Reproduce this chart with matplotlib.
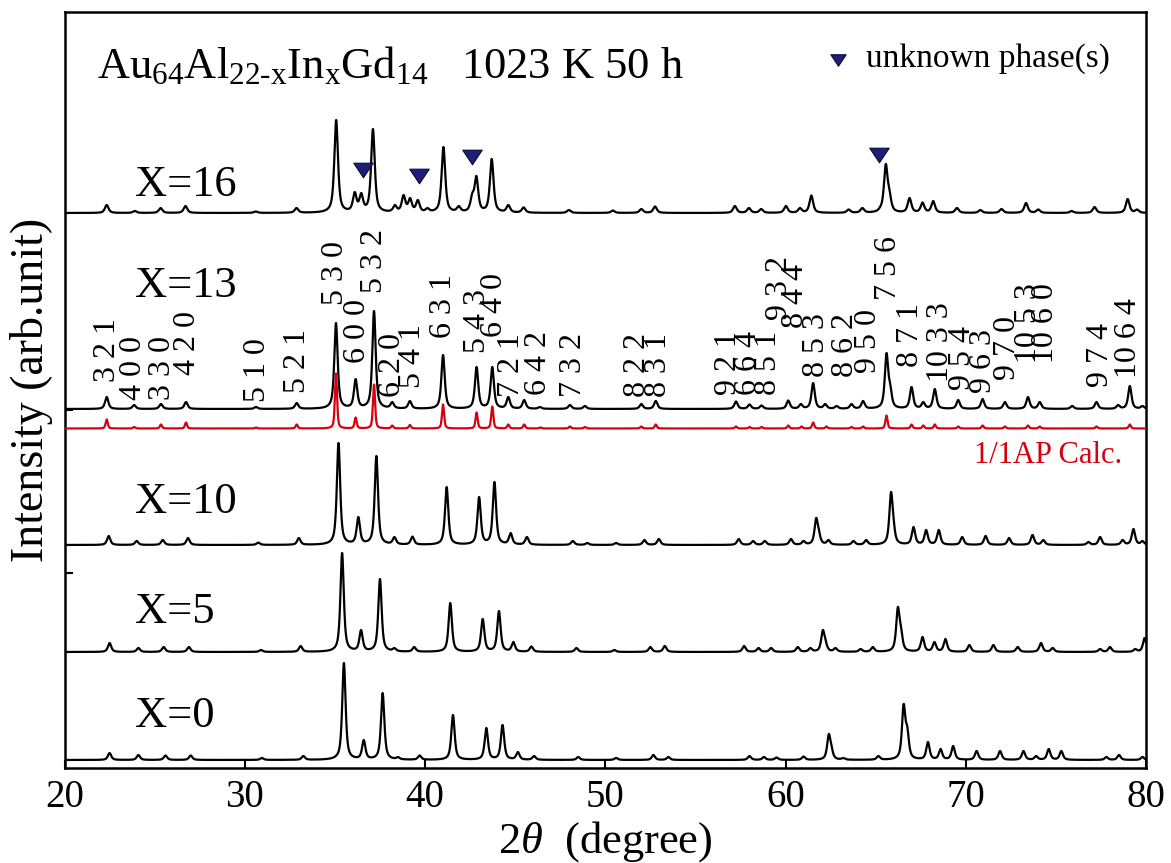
import numpy as np
import matplotlib
matplotlib.use("Agg")
import matplotlib.pyplot as plt
from matplotlib.path import Path

plt.rcParams['font.family'] = ['Liberation Serif', 'DejaVu Serif']
plt.rcParams['mathtext.fontset'] = 'custom'
plt.rcParams['mathtext.rm'] = 'Liberation Serif'
plt.rcParams['mathtext.it'] = 'Liberation Serif:italic'
plt.rcParams['mathtext.bf'] = 'Liberation Serif:bold'

# ---------------- peak lists: 2theta (deg) and peak height (arb. units) ----------------
x16_pos = [22.34, 23.9, 25.33, 26.71, 30.6, 32.87, 35.07, 36.1, 36.46, 37.11, 38.33, 38.81,
           39.17, 39.6, 40.13, 41.02, 41.87, 42.62, 42.85, 43.7, 44.62, 45.47, 47.98, 50.42,
           52.0, 52.76, 57.19, 57.97, 58.65, 60.02, 60.8, 61.43, 63.5, 64.26, 65.27, 65.56,
           65.76, 66.88, 67.6, 68.19, 69.51, 70.81, 71.98, 73.34, 74.02, 75.87, 77.14, 78.98, 79.5]
x16_int = [8, 2, 5, 7, 1.5, 5, 93, 21, 20, 84, 8, 18,
           15, 13, 5, 66, 7, 20, 37, 54, 8, 5.6, 3, 2.5,
           4, 6.5, 7, 5, 4, 7, 5, 17.5, 3.5, 5, 7, 49,
           24, 15, 10.5, 12, 5, 3, 4, 10, 3.5, 2, 6, 14, 3.5]

x13_pos = [22.34, 23.86, 25.35, 26.74, 30.62, 32.88, 35.06, 36.15, 37.17, 38.18, 39.16, 41.0,
           42.86, 43.73, 44.62, 45.5, 46.37, 48.04, 48.87, 52.0, 52.8, 57.25, 58.0, 58.67,
           60.15, 60.85, 61.53, 62.2, 62.83, 63.66, 64.3, 65.6, 65.8, 66.99, 67.64, 68.28,
           69.58, 70.93, 72.17, 73.45, 74.1, 75.9, 77.25, 78.45, 79.1, 79.8]
x13_int = [12, 4, 5, 7, 2, 6, 86, 30, 98, 7, 8, 54,
           42, 42, 12, 9, 2, 4, 3, 5, 8, 7.5, 4.5, 3.5,
           8.5, 5, 26, 5, 3, 5, 8, 56, 26, 22, 7, 20,
           9, 10, 7, 12, 7, 3, 7, 4, 23, 3]

calc_pos = [22.34, 23.86, 25.35, 26.74, 30.62, 32.88, 35.06, 36.15, 37.17, 38.18, 39.16, 41.0,
            42.86, 43.73, 44.62, 45.5, 46.4, 48.04, 48.87, 52.0, 52.8, 57.25, 58.0, 58.67,
            60.15, 60.89, 61.53, 62.27, 63.66, 64.3, 65.6, 66.99, 67.64, 68.28, 69.58, 70.93,
            72.17, 73.45, 74.1, 77.25, 79.1]
calc_int = [9, 1.5, 4, 6, 1, 4, 55, 11, 44, 3, 3.5, 24,
            16, 22, 4, 4, 1, 2, 1.5, 2, 4, 2, 1.5, 1.5,
            3, 2, 6, 2, 1.5, 2, 13, 4, 3, 4, 2, 3,
            2, 3, 2, 2, 4]

x10_pos = [22.45, 24.0, 25.45, 26.85, 30.75, 33.0, 35.2, 36.3, 37.3, 38.3, 39.3, 41.2,
           43.0, 43.85, 44.75, 45.65, 48.2, 49.0, 50.6, 52.17, 52.97, 57.4, 58.2, 58.85,
           60.3, 61.0, 61.7, 61.85, 62.38, 63.77, 64.47, 65.85, 65.98, 67.1, 67.8, 68.5,
           69.8, 71.1, 72.4, 73.7, 74.3, 76.8, 77.45, 78.7, 79.3, 79.8]
x10_int = [9, 4, 5, 7, 2.4, 7, 102, 28, 89, 8, 8.4, 58,
           48, 63, 12, 8, 4, 2, 2, 5, 6, 6, 4, 4,
           6, 4, 27, 15, 5, 4, 5, 53, 30, 18, 15, 15,
           8, 9, 7, 10, 5, 3, 8, 5, 16, 4]

x5_pos = [22.5, 24.1, 25.5, 26.9, 30.9, 33.1, 35.4, 36.45, 37.5, 38.3, 39.4, 41.4,
          43.2, 44.1, 44.9, 45.9, 48.4, 50.5, 52.5, 53.3, 57.7, 58.5, 59.2, 60.68,
          61.38, 62.07, 62.22, 62.77, 64.16, 64.84, 66.23, 66.4, 67.6, 68.26, 68.87, 70.2,
          71.53, 72.88, 74.17, 74.82, 77.45, 78.0, 79.4, 79.92]
x5_int = [9, 4, 5, 5, 2, 6, 99, 22, 73, 4, 5, 49,
          33, 41, 10, 5.5, 4, 2, 5, 6, 6, 4, 4, 5,
          4, 22, 12, 4, 3, 5, 45, 26, 15, 10, 13, 7,
          7, 5, 9, 4, 3, 5, 3, 14]

x0_pos = [22.5, 24.1, 25.6, 27.0, 30.95, 33.25, 35.5, 36.6, 37.65, 38.5, 39.7, 41.55,
          43.4, 44.3, 45.15, 46.05, 48.5, 50.6, 52.67, 53.5, 58.0, 58.8, 59.5, 61.0,
          62.4, 62.55, 63.2, 65.15, 66.55, 66.75, 67.9, 68.6, 69.3, 70.6, 71.9, 73.2,
          73.9, 74.6, 75.3, 77.8, 78.5, 79.8]
x0_int = [7, 5, 4.5, 4.5, 2, 4, 97, 20, 67, 3, 4.5, 45,
          32, 35, 8, 4, 3, 2, 5, 3, 4, 3, 2.5, 3.5,
          26, 14, 2, 4, 56, 34, 18, 11, 14, 9, 9, 9,
          4, 11, 9, 3, 5, 3]

# unknown-phase reflections seen in the X=16 pattern
unknown_pos = [36.55, 39.66, 42.6, 65.2]
unknown_mark = [43, 37, 56, 58]

# 1/1 approximant reflections: label, 2theta, label bottom
hkl_text = ["3 2 1", "4 0 0", "3 3 0", "4 2 0", "5 1 0", "5 2 1", "5 3 0", "6 0 0", "5 3 2",
            "6 2 0", "5 4 1", "6 3 1", "5 4 3", "6 4 0", "7 2 1", "6 4 2", "7 3 2", "8 2 2",
            "8 3 1", "9 2 1", "6 6 4", "8 5 1", "9 3 2", "8 4 4", "8 5 3", "8 6 2", "9 5 0",
            "7 5 6", "8 7 1", "10 3 3", "9 5 4", "9 6 3", "9 7 0", "10 5 3", "10 6 0",
            "9 7 4", "10 6 4"]
hkl_pos = [22.41, 23.80, 25.41, 26.85, 30.68, 32.90, 35.06, 36.28, 37.22,
           38.17, 39.28, 41.0, 42.89, 43.88, 44.82, 46.27, 48.21, 51.76,
           52.93, 56.81, 57.92, 59.08, 59.69, 60.53, 61.69, 63.30, 64.58,
           65.69, 66.91, 68.58, 69.80, 70.96, 72.29, 73.46, 74.40,
           77.45, 79.0]
hkl_bottom = [386, 368, 368, 393, 366, 375, 463, 405, 475,
              371, 380, 430, 415, 431, 371, 373, 371, 371,
              371, 373, 373, 373, 448, 440, 391, 391, 395,
              468, 401, 386, 378, 375, 388, 405, 405,
              381, 390]

sample_labels = ["X=16", "X=13", "X=10", "X=5", "X=0"]

# ---------------- drawing helpers ----------------
tt = np.linspace(20, 80, 6001)


def pattern(centers, tips, fwhm, eta):
    """Pseudo-Voigt peaks whose summed curve reaches each listed height at its centre."""
    c = np.asarray(centers, float)
    h = np.asarray(tips, float)

    def shape(x):
        d = (np.asarray(x)[:, None] - c[None, :]) / (fwhm / 2.0)
        return eta / (1 + d ** 2) + (1 - eta) * np.exp(-np.log(2) * d ** 2)

    amps = np.clip(np.linalg.solve(shape(c), h), 0, None)
    return shape(tt) @ amps


fig = plt.figure(figsize=(11.71, 8.63), dpi=100)
ax = fig.add_axes([0.0551, 0.1101, 0.9236, 0.8760])

black_sets = [
    (x16_pos, x16_int, 555, 0.24),
    (x13_pos, x13_int, 359, 0.22),
    (x10_pos, x10_int, 223, 0.22),
    (x5_pos, x5_int, 116, 0.22),
    (x0_pos, x0_int, 8, 0.22),
]
for pos, inten, base, w in black_sets:
    ax.plot(tt, base + pattern(pos, inten, w, 0.7), color='black', lw=1.6, zorder=3)

ax.plot(tt, 339.5 + pattern(calc_pos, calc_int, 0.14, 0.5), color='#d7000f', lw=1.6, zorder=3)

# sample labels
for lab, yb in zip(sample_labels, [572, 471, 255, 145, 41]):
    ax.text(23.9, yb, lab, fontsize=32, ha='left', va='baseline')

# reflection indices
for lab, x, yb in zip(hkl_text, hkl_pos, hkl_bottom):
    ax.text(x, yb, lab, fontsize=23, rotation=90, ha='center', va='bottom')

ax.text(78.67, 305, "1/1AP Calc.", color='#d7000f', fontsize=22, ha='right', va='baseline')

# unknown-phase markers
tri = Path([(-1, 0.75), (1, 0.75), (0, -0.75), (-1, 0.75)],
           [Path.MOVETO, Path.LINETO, Path.LINETO, Path.CLOSEPOLY])
ax.plot(unknown_pos, [555 + m for m in unknown_mark], ls='none', marker=tri, ms=14,
        color='#1e1e78', mec='#0a0a3a', mew=0.8, zorder=4)
ax.plot([0.715], [0.936], transform=ax.transAxes, ls='none', marker=tri, ms=11,
        color='#1e1e78', mec='#0a0a3a', mew=0.8, clip_on=False)
ax.text(0.741, 0.927, "unknown phase(s)", transform=ax.transAxes, fontsize=24,
        ha='left', va='baseline')

ax.text(0.030, 0.9127, r"Au$_{\mathrm{64}}$Al$_{\mathrm{22\text{-}x}}$In$_{\mathrm{x}}$Gd$_{\mathrm{14}}$   1023 K 50 h",
        transform=ax.transAxes, fontsize=32, ha='left', va='baseline')

ax.set_xlim(20, 80)
ax.set_ylim(0, 756)
ax.set_xticks([20, 30, 40, 50, 60, 70, 80])
ax.set_yticks([195, 358])
ax.tick_params(axis='both', direction='in', length=6, width=1.5, labelsize=28)
ax.tick_params(axis='y', labelleft=False)
ax.tick_params(axis='x', pad=8)
for s in ax.spines.values():
    s.set_linewidth(1.8)

ax.set_xlabel(r"2$\theta$  (degree)", fontsize=32, labelpad=2)
ax.set_ylabel("Intensity (arb.unit)", fontsize=33, labelpad=8)

fig.savefig("out.png", dpi=100)
